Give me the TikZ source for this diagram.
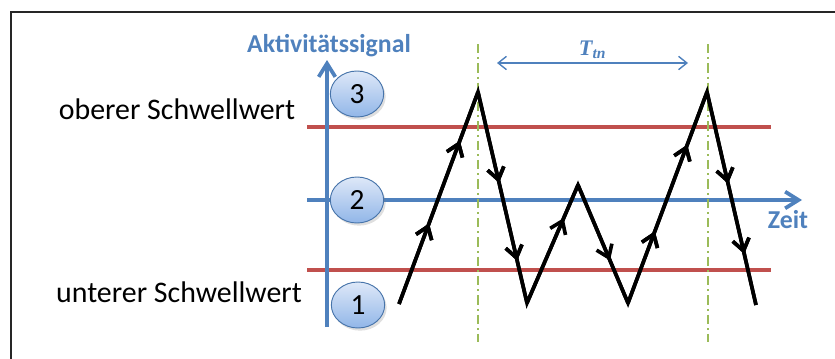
\documentclass[tikz,border=0pt]{standalone}
\usepackage{fontspec}
\setmainfont{Carlito}
\newfontfamily\formelschrift{Liberation Serif}
\usepackage{tikz}
\usetikzlibrary{arrows.meta,decorations.markings,shapes.geometric,shadows}

\definecolor{achsblau}{RGB}{79,129,189}
\definecolor{schwellrot}{RGB}{192,80,77}
\definecolor{markgruen}{RGB}{155,187,89}
\definecolor{kreisoben}{RGB}{222,232,248}
\definecolor{kreisunten}{RGB}{145,182,232}

\tikzset{
  achse/.style={achsblau,line width=3.2pt,-{Straight Barb[length=4mm,width=5mm]}},
  schwelle/.style={schwellrot,line width=3.2pt},
  marke/.style={markgruen,line width=2.3pt,dash pattern=on 8pt off 3.5pt on 1.5pt off 3.5pt},
  rahmen/.style={black!85,line width=1.6pt},
  zustand/.style={ellipse,draw=achsblau!90!black,line width=0.8pt,top color=kreisoben,bottom color=kreisunten,
    minimum width=1.6cm,minimum height=1.38cm,inner sep=0pt,font=\fontsize{25}{29}\selectfont,
    drop shadow={opacity=0.25,shadow xshift=0.6mm,shadow yshift=-0.8mm}},
  signal/.style={black,line width=3.1pt,line join=miter},
  spitze/.style={decoration={markings,mark=at position #1 with {\arrow{Straight Barb[length=3.5mm,width=5mm]}}},postaction={decorate}},
  beschrift/.style={font=\fontsize{25.5}{30}\selectfont},
  achstext/.style={achsblau,font=\bfseries\fontsize{22}{26}\selectfont}
}

\begin{document}
\begin{tikzpicture}[x=0.03cm,y=-0.03cm]
  \useasboundingbox (0,0) rectangle (835,358);
  \draw[rahmen] (11,359) -- (11,12) -- (836,12);

  % Schwellwerte
  \coordinate (ob-l) at (307,127);  \coordinate (ob-r) at (771,127);
  \coordinate (un-l) at (307,270);  \coordinate (un-r) at (771,270);
  \draw[schwelle] (ob-l) -- (ob-r);
  \draw[schwelle] (un-l) -- (un-r);

  % Achsen
  \coordinate (y-fuss) at (327,327);  \coordinate (y-kopf) at (327,60);
  \coordinate (x-fuss) at (307,200);  \coordinate (x-kopf) at (802,200);
  \draw[achse] (x-fuss) -- (x-kopf);
  \draw[achse] (y-fuss) -- (y-kopf);
  \node[achstext] (aktiv) at (329,46) {Aktivitätssignal};
  \node[achstext] (zeit) at (788,220) {Zeit};

  \node[beschrift] (oberer) at (177,109) {oberer Schwellwert};
  \node[beschrift] (unterer) at (179,292) {unterer Schwellwert};

  % Zustaende
  \node[zustand] (z3) at (357,94) {3};
  \node[zustand] (z2) at (357,200) {2};
  \node[zustand] (z1) at (358,305) {1};

  % Markierungen
  \coordinate (m1-o) at (478,44);  \coordinate (m1-u) at (478,342);
  \coordinate (m2-o) at (708,44);  \coordinate (m2-u) at (708,342);
  \draw[marke] (m1-o) -- (m1-u);
  \draw[marke] (m2-o) -- (m2-u);
  \coordinate (t-l) at (497,63);  \coordinate (t-r) at (688,63);
  \draw[achsblau,line width=1.2pt,{Straight Barb[length=2.5mm,width=4mm]}-{Straight Barb[length=2.5mm,width=4mm]}] (t-l) -- (t-r)
    node[midway,above=0pt,font=\formelschrift\bfseries\itshape\fontsize{19}{22}\selectfont] (ttn) {T\textsubscript{tn}};

  % Signal
  \coordinate (s0) at (399,304);
  \coordinate (s1) at (478,92);
  \coordinate (s2) at (527,303);
  \coordinate (s3) at (578,185);
  \coordinate (s4) at (628,303);
  \coordinate (s5) at (707,92);
  \coordinate (s6) at (756,305);
  \draw[signal,spitze=0.38,spitze=0.77] (s0) -- (s1);
  \draw[signal,spitze=0.43,spitze=0.8] (s1) -- (s2);
  \draw[signal,spitze=0.72] (s2) -- (s3);
  \draw[signal,spitze=0.64] (s3) -- (s4);
  \draw[signal,spitze=0.34,spitze=0.75] (s4) -- (s5);
  \draw[signal,spitze=0.43,spitze=0.76] (s5) -- (s6);
  \draw[signal] (s0) -- (s1) -- (s2) -- (s3) -- (s4) -- (s5) -- (s6);
\end{tikzpicture}
\end{document}
